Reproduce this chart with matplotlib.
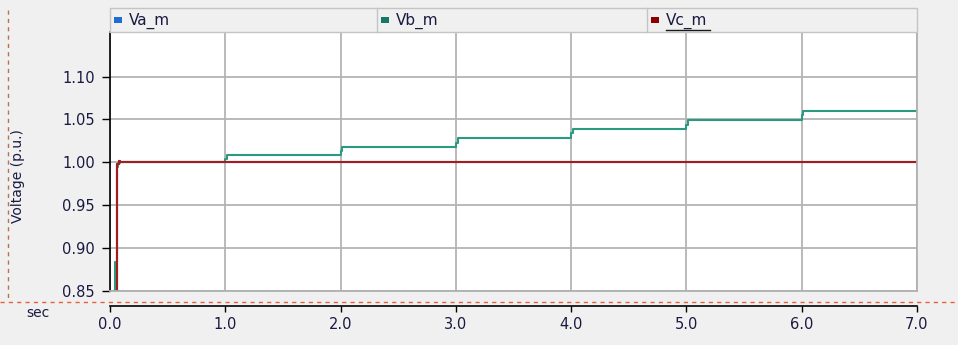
import matplotlib
matplotlib.use("Agg")
import matplotlib.pyplot as plt
from matplotlib.lines import Line2D
from matplotlib.patches import Rectangle

W, H = 958, 345

# step traces (time in sec, value in p.u.), drawn as steps-post
va_t = [0.0, 0.060, 0.065, 0.075, 0.085, 7.0]
va_v = [0.80, 0.990, 0.998, 1.002, 1.000, 1.000]

vb_t = [0.0, 0.045, 0.060, 0.070, 0.085,
        1.00, 1.015, 2.00, 2.015, 3.00, 3.015,
        4.00, 4.015, 5.00, 5.015, 6.00, 6.015, 7.0]
vb_v = [0.80, 0.884, 0.995, 0.999, 1.000,
        1.004, 1.008, 1.013, 1.018, 1.023, 1.028,
        1.034, 1.039, 1.044, 1.049, 1.055, 1.060, 1.060]

vc_t = [0.0, 0.060, 0.065, 0.075, 0.085, 7.0]
vc_v = [0.80, 0.990, 0.998, 1.002, 1.000, 1.000]

series = ["Va_m", "Vb_m", "Vc_m"]
legend_colors = ["#1c6fd1", "#137a65", "#8b0000"]
line_colors = ["#1c6fd1", "#2a9a82", "#a51c1c"]

y_ticks = [0.85, 0.90, 0.95, 1.00, 1.05, 1.10]
x_ticks = [0, 1, 2, 3, 4, 5, 6, 7]

TEXT = "#1a1a40"
BG = "#f0f0f0"

fig = plt.figure(figsize=(W / 100, H / 100), dpi=100, facecolor=BG)


def fx(px):
    return px / W


def fy(py):
    return 1 - py / H


left, right, top, bottom = 110, 917, 32, 291
ax = fig.add_axes([fx(left), fy(bottom), fx(right - left), fy(top) - fy(bottom)])
ax.set_facecolor("white")
ax.set_xlim(0, 7)
ax.set_ylim(0.85, 1.152)
ax.set_xticks(x_ticks)
ax.set_yticks(y_ticks)
ax.set_yticklabels([f"{v:.2f}" for v in y_ticks], fontsize=10.5, color=TEXT)
ax.tick_params(axis="x", length=0, labelbottom=False)
ax.tick_params(axis="y", direction="out", length=6, width=1, color="black", pad=5)
ax.grid(True, color="#b4b4b4", linewidth=1.3)
ax.set_axisbelow(True)
for name, sp in ax.spines.items():
    sp.set_color("#b0b0b0")
    sp.set_linewidth(1.3)
ax.spines["left"].set_color("black")
ax.spines["left"].set_linewidth(1.2)

for t, v, c in zip([va_t, vb_t, vc_t], [va_v, vb_v, vc_v], line_colors):
    ax.plot(t, v, drawstyle="steps-post", color=c, linewidth=1.5, clip_on=True)

# separate time axis below the plot
axx = fig.add_axes([fx(left), fy(306), fx(right - left), 0.0001])
axx.patch.set_visible(False)
for name in ["top", "left", "right"]:
    axx.spines[name].set_visible(False)
axx.spines["bottom"].set_color("black")
axx.spines["bottom"].set_linewidth(1.2)
axx.set_xlim(0, 7)
axx.set_yticks([])
axx.set_xticks(x_ticks)
axx.set_xticklabels([f"{v:.1f}" for v in x_ticks], fontsize=10.5, color=TEXT)
axx.tick_params(axis="x", direction="out", length=4, width=1, pad=4)

fig.text(fx(38), fy(313), "sec", fontsize=10, color=TEXT, ha="center", va="center")
fig.text(fx(18), fy(176), "Voltage (p.u.)", fontsize=10, color=TEXT,
         rotation=90, ha="center", va="center")

# dashed frame marks
fig.add_artist(Line2D([0, 1], [fy(302), fy(302)], transform=fig.transFigure,
                      color="#e8603c", linewidth=1, linestyle=(0, (3, 3))))
fig.add_artist(Line2D([fx(8), fx(8)], [fy(10), fy(300)], transform=fig.transFigure,
                      color="#c07050", linewidth=1, linestyle=(0, (3, 3))))

# legend header bar
fig.add_artist(Rectangle((fx(left), fy(32)), fx(right - left), fy(8) - fy(32),
                         transform=fig.transFigure, facecolor=BG,
                         edgecolor="#c4c4c4", linewidth=1))
cells = [left, 377, 647]
for x0 in cells[1:]:
    fig.add_artist(Line2D([fx(x0), fx(x0)], [fy(32), fy(8)], transform=fig.transFigure,
                          color="#c4c4c4", linewidth=1))
for x0, name, c in zip(cells, series, legend_colors):
    fig.add_artist(Rectangle((fx(x0 + 4), fy(23)), fx(8), fy(17) - fy(23),
                             transform=fig.transFigure, facecolor=c, edgecolor="none"))
    fig.text(fx(x0 + 19), fy(21), name, fontsize=11, color=TEXT, ha="left", va="center")
fig.add_artist(Line2D([fx(666), fx(710)], [fy(30), fy(30)], transform=fig.transFigure,
                      color="#1a1a1a", linewidth=1))

fig.savefig("out.png", dpi=100, facecolor=BG)
